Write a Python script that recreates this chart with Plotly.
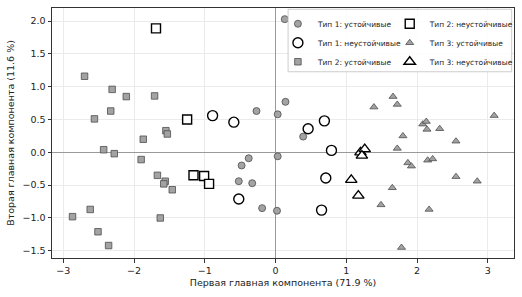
import plotly.graph_objects as go

# Type 1 stable (gray circles)
t1s_x = [0.13, 0.14, 0.03, -0.27, 0.39, -0.38, -0.48, 0.03, -0.52, -0.33, -0.19, 0.02]
t1s_y = [2.03, 0.77, 0.58, 0.63, 0.24, -0.09, -0.20, -0.06, -0.44, -0.47, -0.85, -0.89]
# Type 1 unstable (open circles)
t1u_x = [-0.89, -0.59, 0.46, 0.69, 0.79, 0.71, -0.52, 0.65]
t1u_y = [0.56, 0.46, 0.36, 0.48, 0.03, -0.39, -0.71, -0.88]
# Type 2 stable (gray squares)
t2s_x = [-2.70, -2.31, -2.11, -1.71, -2.56, -2.33, -1.55, -1.53, -1.87, -2.43, -2.28,
         -1.90, -1.67, -1.56, -1.58, -1.46, -2.62, -2.87, -2.51, -2.36, -1.63]
t2s_y = [1.16, 0.96, 0.85, 0.86, 0.51, 0.63, 0.33, 0.28, 0.20, 0.04, -0.02,
         -0.11, -0.35, -0.44, -0.48, -0.57, -0.87, -0.98, -1.21, -1.42, -1.00]
# Type 2 unstable (open squares)
t2u_x = [-1.69, -1.25, -1.16, -1.01, -0.94]
t2u_y = [1.89, 0.50, -0.35, -0.36, -0.48]
# Type 3 stable (gray triangles)
t3s_x = [1.39, 1.66, 1.72, 2.08, 2.13, 2.14, 2.32, 1.80, 2.55, 3.09, 1.72,
         1.87, 1.92, 2.15, 2.22, 2.55, 2.85, 1.65, 1.49, 2.17, 1.78]
t3s_y = [0.69, 0.85, 0.73, 0.43, 0.47, 0.35, 0.36, 0.25, 0.17, 0.56, 0.06,
         -0.16, -0.21, -0.12, -0.10, -0.37, -0.44, -0.54, -0.80, -0.87, -1.45]
# Type 3 unstable (open triangles)
t3u_x = [1.20, 1.26, 1.22, 1.07, 1.17]
t3u_y = [0.00, 0.05, -0.05, -0.42, -0.66]

x_ticks = [-3, -2, -1, 0, 1, 2, 3]
y_ticks = [-1.5, -1.0, -0.5, 0.0, 0.5, 1.0, 1.5, 2.0]

FONT = "DejaVu Sans"
GRAY = "#a3a3a3"
EDGE = "#4d4d4d"

fig = go.Figure()

def add(x, y, name, symbol, size, filled, legend):
    fig.add_trace(go.Scatter(
        x=x, y=y, mode="markers", name=name, legend=legend,
        marker=dict(symbol=symbol, size=size,
                    color=GRAY if filled else "white",
                    line=dict(color=EDGE if filled else "black", width=0.8 if filled else 1.4)),
    ))

add(t1s_x, t1s_y, "Тип 1: устойчивые", "circle", 7, True, "legend")
add(t1u_x, t1u_y, "Тип 1: неустойчивые", "circle", 10, False, "legend")
add(t2s_x, t2s_y, "Тип 2: устойчивые", "square", 6.5, True, "legend")
add(t2u_x, t2u_y, "Тип 2: неустойчивые", "square", 9, False, "legend2")
add(t3s_x, t3s_y, "Тип 3: устойчивые", "triangle-up", 7, True, "legend2")
add(t3u_x, t3u_y, "Тип 3: неустойчивые", "triangle-up", 10, False, "legend2")

axis_common = dict(
    showgrid=True, gridcolor="#ebebeb", gridwidth=0.8,
    zeroline=True, zerolinecolor="#9a9a9a", zerolinewidth=1,
    showline=True, linecolor="#333333", linewidth=1, mirror=True,
    ticks="outside", ticklen=3.5, tickcolor="#333333", tickwidth=1,
    tickfont=dict(family=FONT, size=9.5, color="#222222"),
    automargin=False,
)

fig.update_layout(
    width=522, height=297,
    margin=dict(l=52, r=8, t=8, b=39, autoexpand=False),
    plot_bgcolor="white", paper_bgcolor="white",
    font=dict(family=FONT, color="#222222"),
    xaxis=dict(range=[-3.16, 3.37], tickvals=x_ticks,
               title=dict(text="Первая главная компонента (71.9 %)", font=dict(size=9.5), standoff=4),
               **axis_common),
    yaxis=dict(range=[-1.61, 2.2], tickvals=y_ticks, tickformat=".1f",
               title=dict(text="Вторая главная компонента (11.6 %)", font=dict(size=9.5), standoff=6),
               **axis_common),
    legend=dict(x=0.489, y=0.995, xanchor="left", yanchor="top",
                bgcolor="rgba(0,0,0,0)", borderwidth=0, itemsizing="trace",
                font=dict(family=FONT, size=7.5, color="#222222"), tracegroupgap=0),
    legend2=dict(x=0.731, y=0.995, xanchor="left", yanchor="top",
                 bgcolor="rgba(0,0,0,0)", borderwidth=0, itemsizing="trace",
                 font=dict(family=FONT, size=7.5, color="#222222"), tracegroupgap=0),
    shapes=[dict(type="rect", xref="paper", yref="paper",
                 x0=0.511, x1=0.995, y0=0.745, y1=0.995,
                 fillcolor="rgba(255,255,255,0.85)", line=dict(color="#cccccc", width=1),
                 layer="above")],
)

fig.write_html("out.html")
